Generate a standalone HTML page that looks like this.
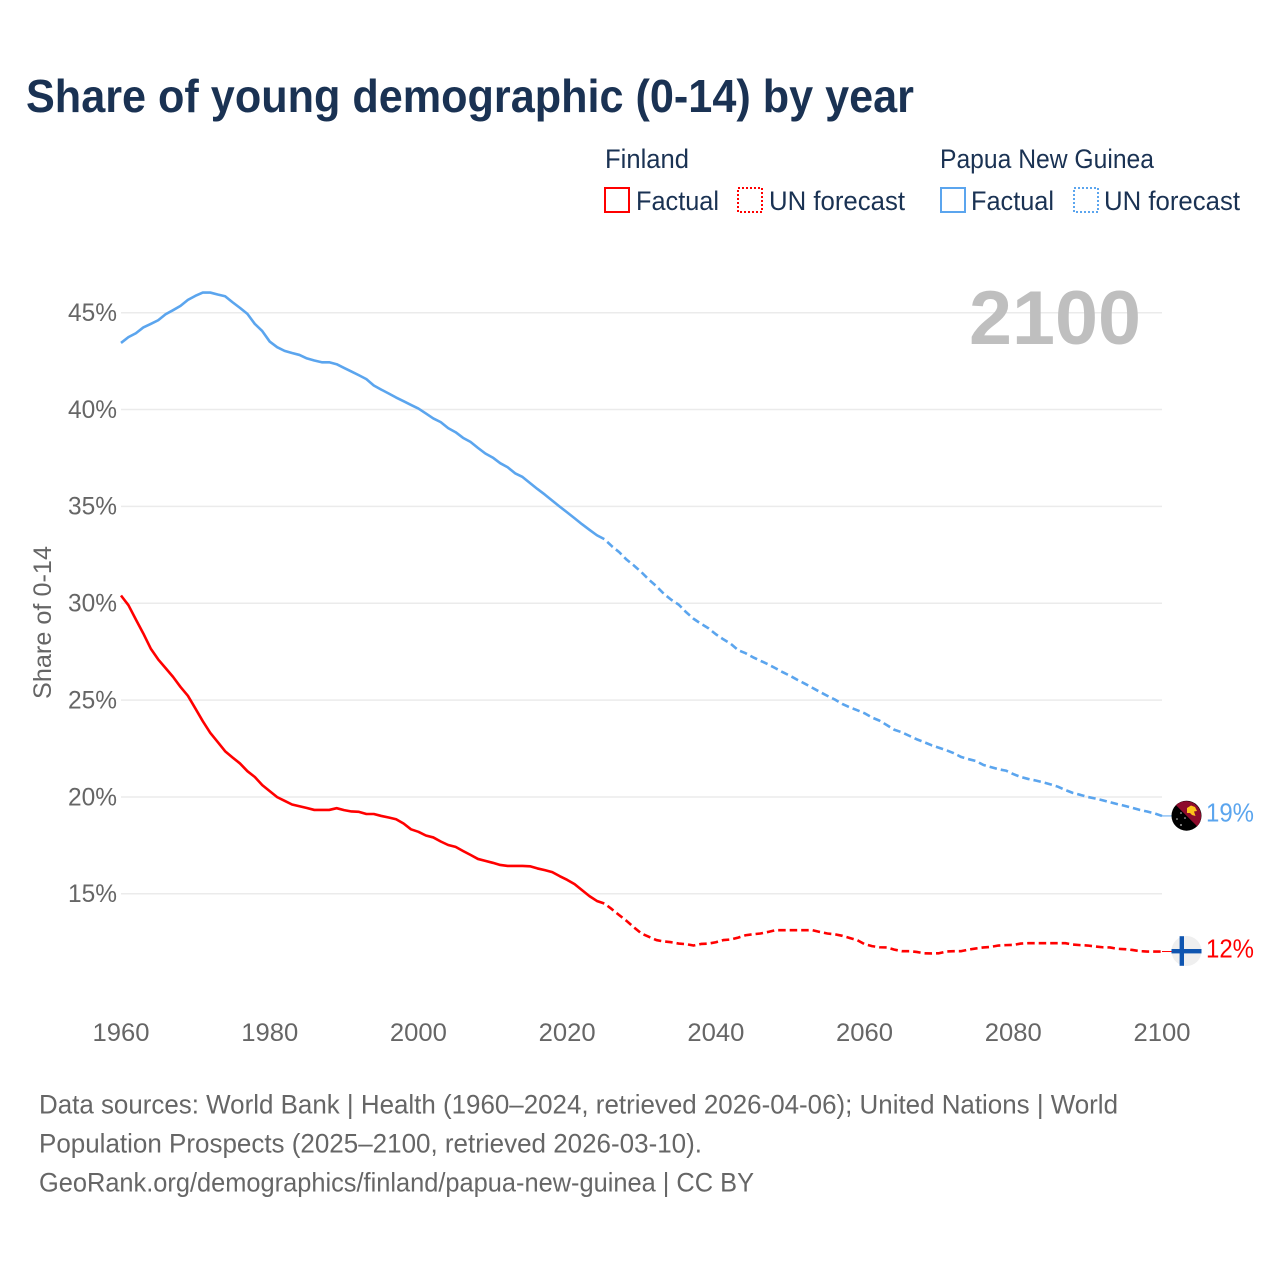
<!DOCTYPE html>
<html lang="en">
<head>
<meta charset="utf-8">
<title>Share of young demographic (0-14) by year</title>
<style>
html,body{margin:0;padding:0;background:#fff;}
svg{display:block;font-family:"Liberation Sans",sans-serif;}
</style>
</head>
<body>
<svg id="chart" xmlns="http://www.w3.org/2000/svg" width="1280" height="1280" viewBox="0 0 1280 1280">
  <rect x="0" y="0" width="1280" height="1280" fill="#ffffff"/>
  <text x="26" y="112" font-size="46" font-weight="700" fill="#1a3253" textLength="888" lengthAdjust="spacingAndGlyphs">Share of young demographic (0-14) by year</text>

  <g font-size="26.5" fill="#1a3253">
    <text x="605" y="168" textLength="84" lengthAdjust="spacingAndGlyphs">Finland</text>
    <text x="940" y="168" textLength="214" lengthAdjust="spacingAndGlyphs">Papua New Guinea</text>

    <rect x="605" y="188" width="24" height="24" fill="none" stroke="#ff0000" stroke-width="2"/>
    <text x="636" y="210" textLength="83" lengthAdjust="spacingAndGlyphs">Factual</text>
    <rect x="738" y="188" width="24" height="24" fill="none" stroke="#ff0000" stroke-width="2" stroke-dasharray="2 2"/>
    <text x="769" y="210" textLength="136" lengthAdjust="spacingAndGlyphs">UN forecast</text>

    <rect x="941" y="188" width="24" height="24" fill="none" stroke="#5ba5ee" stroke-width="2"/>
    <text x="971" y="210" textLength="83" lengthAdjust="spacingAndGlyphs">Factual</text>
    <rect x="1074" y="188" width="24" height="24" fill="none" stroke="#5ba5ee" stroke-width="2" stroke-dasharray="2 2"/>
    <text x="1104" y="210" textLength="136" lengthAdjust="spacingAndGlyphs">UN forecast</text>
  </g>

  <g id="grid"></g>
  <g id="yticks"></g>
  <g id="xticks"></g>

  <text x="969" y="344" font-size="76" font-weight="700" fill="#bfbfbf" textLength="172" lengthAdjust="spacingAndGlyphs">2100</text>
  <text transform="translate(51,699) rotate(-90)" x="0" y="0" font-size="25" fill="#666666" textLength="153" lengthAdjust="spacingAndGlyphs">Share of 0-14</text>

  <g id="series"></g>

  <g>
    <circle cx="1186.5" cy="815.7" r="15" fill="#000000"/>
    <path d="M1175.9 805.1 A15 15 0 0 1 1197.1 826.3 Z" fill="#8d0b2c"/>
    <path d="M1187 808 L1191 805.5 L1195 807 L1197 811 L1194 811.5 L1195.5 816 L1192 815 L1190 813 L1187 813 Z" fill="#fcc21c"/>
    <circle cx="1181" cy="813" r="0.8" fill="#cccccc"/>
    <circle cx="1185" cy="818" r="0.8" fill="#cccccc"/>
    <circle cx="1177" cy="819" r="0.8" fill="#cccccc"/>
    <circle cx="1181" cy="825" r="0.9" fill="#cccccc"/>
  </g>
  <g>
    <circle cx="1186.5" cy="951" r="15" fill="#efefef"/>
    <rect x="1171.5" y="949" width="30" height="4.4" fill="#0f55b0"/>
    <rect x="1179.6" y="936.2" width="4.4" height="29.6" fill="#0f55b0"/>
  </g>

  <text x="1206" y="821.5" font-size="25.5" fill="#5ba5ee" textLength="48" lengthAdjust="spacingAndGlyphs">19%</text>
  <text x="1206" y="957.5" font-size="25.5" fill="#ff0000" textLength="48" lengthAdjust="spacingAndGlyphs">12%</text>

  <g font-size="26.5" fill="#666666">
    <text x="39" y="1113.5" textLength="1079" lengthAdjust="spacingAndGlyphs">Data sources: World Bank | Health (1960–2024, retrieved 2026-04-06); United Nations | World</text>
    <text x="39" y="1152.5" textLength="663" lengthAdjust="spacingAndGlyphs">Population Prospects (2025–2100, retrieved 2026-03-10).</text>
    <text x="39" y="1191.5" textLength="715" lengthAdjust="spacingAndGlyphs">GeoRank.org/demographics/finland/papua-new-guinea | CC BY</text>
  </g>
</svg>
<script>
const yTickValues = [45, 40, 35, 30, 25, 20, 15];
const xTickYears = [1960, 1980, 2000, 2020, 2040, 2060, 2080, 2100];
const factualStartYear = 1960;
const forecastStartYear = 2025;

const pngFactual = [43.44,43.74,43.94,44.24,44.42,44.61,44.92,45.13,45.35,45.66,45.87,46.04,46.04,45.94,45.85,45.54,45.25,44.94,44.42,44.05,43.51,43.22,43.03,42.92,42.82,42.64,42.53,42.44,42.44,42.34,42.15,41.96,41.77,41.57,41.24,41.03,40.83,40.62,40.43,40.24,40.05,39.80,39.54,39.35,39.04,38.83,38.54,38.33,38.02,37.73,37.52,37.23,37.02,36.71,36.52,36.21,35.90,35.61,35.30,34.99,34.69,34.39,34.08,33.79,33.51,33.31];
const pngForecast = [33.31,32.95,32.64,32.25,31.94,31.60,31.22,30.88,30.49,30.18,29.93,29.54,29.20,28.94,28.71,28.40,28.14,27.91,27.58,27.42,27.21,27.03,26.85,26.65,26.44,26.25,26.04,25.84,25.63,25.42,25.22,25.03,24.80,24.63,24.48,24.32,24.10,23.94,23.71,23.47,23.34,23.16,22.98,22.83,22.67,22.54,22.41,22.26,22.06,21.95,21.85,21.65,21.54,21.43,21.36,21.18,21.03,20.93,20.85,20.76,20.65,20.53,20.36,20.21,20.11,20.00,19.92,19.83,19.73,19.63,19.54,19.44,19.33,19.25,19.15,19.02];
const finlandFactual = [30.40,29.90,29.16,28.44,27.66,27.10,26.65,26.20,25.68,25.22,24.57,23.91,23.31,22.84,22.36,22.04,21.73,21.33,21.03,20.61,20.30,19.99,19.80,19.61,19.52,19.43,19.33,19.33,19.33,19.42,19.32,19.25,19.23,19.12,19.12,19.02,18.94,18.85,18.63,18.33,18.20,18.01,17.91,17.70,17.52,17.42,17.21,17.01,16.80,16.70,16.60,16.49,16.44,16.44,16.44,16.42,16.31,16.22,16.12,15.91,15.72,15.50,15.19,14.88,14.63,14.50];
const finlandForecast = [14.50,14.21,13.90,13.60,13.26,12.95,12.78,12.61,12.54,12.50,12.43,12.40,12.33,12.41,12.43,12.50,12.61,12.64,12.74,12.86,12.91,12.95,13.03,13.12,13.12,13.12,13.12,13.12,13.12,13.03,12.95,12.91,12.83,12.72,12.61,12.40,12.30,12.24,12.23,12.12,12.04,12.04,12.00,11.93,11.92,11.93,12.02,12.04,12.04,12.12,12.18,12.23,12.26,12.33,12.35,12.36,12.43,12.45,12.45,12.45,12.45,12.45,12.45,12.38,12.35,12.33,12.28,12.24,12.23,12.16,12.14,12.10,12.04,12.02,12.02,12.02];

const SVG_NS = 'http://www.w3.org/2000/svg';
function xScale(year) { return 121 + (year - 1960) * (1041 / 140); }
function yScale(value) { return 312.7 + (45 - value) * 19.37; }

function linePath(values, startYear) {
  return values.map(function (v, i) {
    return (i ? 'L' : 'M') + xScale(startYear + i).toFixed(2) + ' ' + yScale(v).toFixed(2);
  }).join(' ');
}

const gridGroup = document.getElementById('grid');
const yTickGroup = document.getElementById('yticks');
const xTickGroup = document.getElementById('xticks');
const seriesGroup = document.getElementById('series');

yTickValues.forEach(function (v) {
  const line = document.createElementNS(SVG_NS, 'line');
  
  
  line.setAttribute('x1', xScale(1960));
  line.setAttribute('x2', xScale(2100));
  line.setAttribute('y1', yScale(v));
  line.setAttribute('y2', yScale(v));
  line.setAttribute('stroke', '#ebebeb');
  line.setAttribute('stroke-width', '1.5');
  gridGroup.appendChild(line);

  const label = document.createElementNS(SVG_NS, 'text');
  
  
  label.setAttribute('x', 68);
  label.setAttribute('y', yScale(v) + 8.3);
  label.setAttribute('font-size', '24.6');
  label.setAttribute('fill', '#666666');
  label.setAttribute('textLength', '49');
  label.setAttribute('lengthAdjust', 'spacingAndGlyphs');
  label.textContent = v + '%';
  yTickGroup.appendChild(label);
});

xTickYears.forEach(function (year) {
  const label = document.createElementNS(SVG_NS, 'text');
  
  
  label.setAttribute('x', xScale(year) - 28.5);
  label.setAttribute('y', 1041);
  label.setAttribute('font-size', '24.6');
  label.setAttribute('fill', '#666666');
  label.setAttribute('textLength', '57');
  label.setAttribute('lengthAdjust', 'spacingAndGlyphs');
  label.textContent = String(year);
  xTickGroup.appendChild(label);
});

function drawLine(values, startYear, color, dashed, name) {
  const path = document.createElementNS(SVG_NS, 'path');
  
  
  path.setAttribute('d', linePath(values, startYear));
  path.setAttribute('fill', 'none');
  path.setAttribute('stroke', color);
  path.setAttribute('stroke-width', '2.6');
  path.setAttribute('stroke-linejoin', 'round');
  if (dashed) {
    path.setAttribute('stroke-dasharray', '7.5 4');
    path.setAttribute('stroke-dashoffset', '7.5');
  }
  seriesGroup.appendChild(path);
}

function drawConnector(lastValue, color, name) {
  const line = document.createElementNS(SVG_NS, 'line');
  
  
  line.setAttribute('x1', xScale(2100));
  line.setAttribute('x2', xScale(2100) + 10);
  line.setAttribute('y1', yScale(lastValue));
  line.setAttribute('y2', yScale(lastValue));
  line.setAttribute('stroke', color);
  line.setAttribute('stroke-width', '1');
  seriesGroup.appendChild(line);
}

drawLine(pngFactual, factualStartYear, '#5ba5ee', false, 'line-png-factual');
drawLine(pngForecast, forecastStartYear, '#5ba5ee', true, 'line-png-forecast');
drawLine(finlandFactual, factualStartYear, '#ff0000', false, 'line-finland-factual');
drawLine(finlandForecast, forecastStartYear, '#ff0000', true, 'line-finland-forecast');
drawConnector(pngForecast[pngForecast.length - 1], '#5ba5ee', 'connector-png');
drawConnector(finlandForecast[finlandForecast.length - 1], '#ff0000', 'connector-finland');
</script>
</body>
</html>
